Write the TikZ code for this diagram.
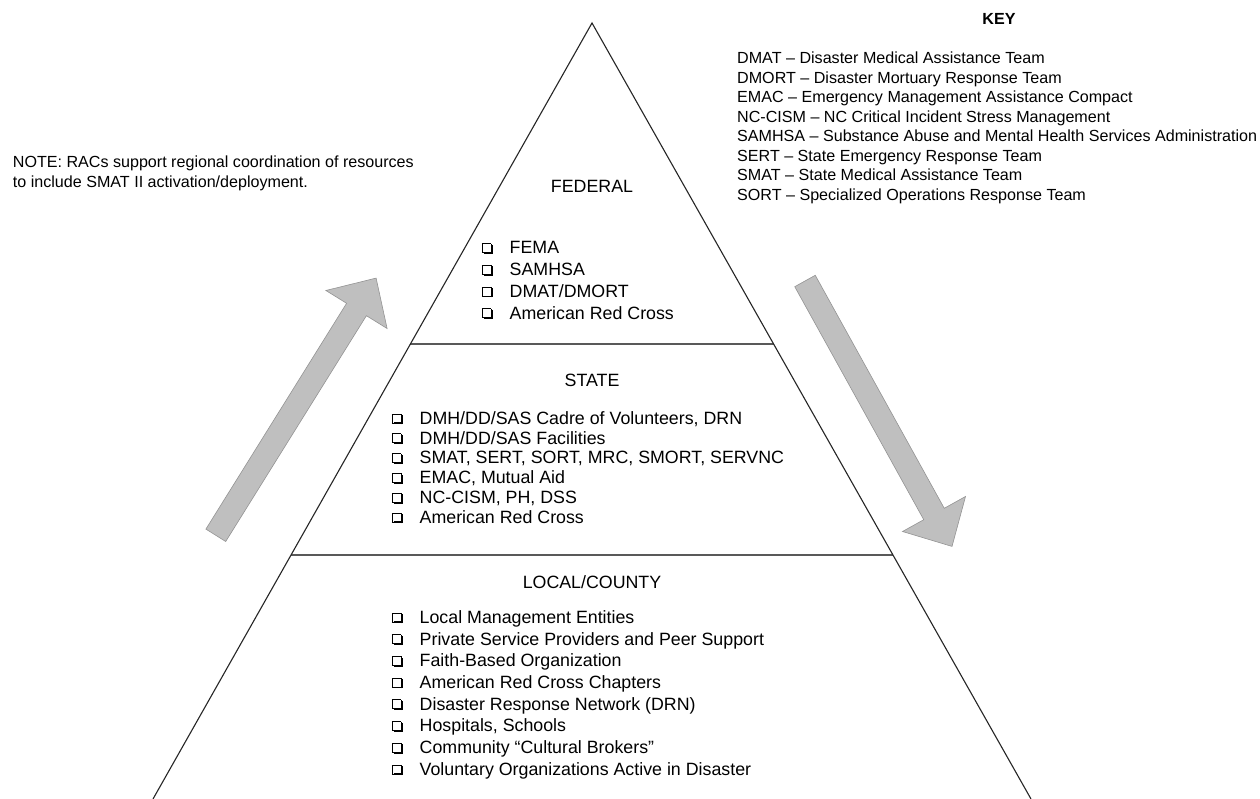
\documentclass[tikz,border=0pt]{standalone}
\usepackage{fontspec}
\setmainfont{Liberation Sans}
\newcommand{\cbx}{\makebox[27.5pt][l]{\setlength{\unitlength}{1pt}\setlength{\fboxrule}{0.9pt}%
  \begin{picture}(10.5,10)
    \put(0,1.7){\framebox(8.6,8.6){}}
    \put(8.6,0){\rule{1.9pt}{9.2pt}}
    \put(1.4,0){\rule{9.1pt}{1.9pt}}
  \end{picture}}}
\begin{document}
\begin{tikzpicture}[x=1pt,y=-1pt,
  edge/.style={draw=black!85, line width=1.1pt},
  divider/.style={draw=black!65, line width=1.5pt},
  bigarrow/.style={fill=gray!50, draw=gray!85, line width=0.6pt, line join=miter},
  hdr/.style={font=\fontsize{17.8}{21}\selectfont, inner sep=0pt, anchor=base},
  item/.style={font=\fontsize{17.8}{21}\selectfont, inner sep=0pt, anchor=base west},
  keyline/.style={font=\fontsize{16.1}{19.5}\selectfont, inner sep=0pt, anchor=base west}]
\useasboundingbox (0,0) rectangle (1260,799);
\fill[white] (0,0) rectangle (1260,799);

% pyramid
\coordinate (apex) at (592,23);
\coordinate (bl) at (153,799);
\coordinate (br) at (1031,799);
\coordinate (d1l) at (410.3,344);
\coordinate (d1r) at (773.7,344);
\coordinate (d2l) at (291,555);
\coordinate (d2r) at (893,555);
\draw[divider] (d1l) -- (d1r);
\draw[divider] (d2l) -- (d2r);
\draw[edge] (bl) -- (apex) -- (br);

% arrows
\draw[bigarrow] (205.9,529.1) -- (346.6,303.3) -- (325.9,290.5) -- (376.1,278.1)
  -- (387.1,328.5) -- (366.4,315.7) -- (225.7,541.5) -- cycle;
\draw[bigarrow] (815.25,275.3) -- (944.25,508.3) -- (965.5,496.5) -- (952,546.4)
  -- (902.5,531.5) -- (923.75,519.7) -- (794.75,286.7) -- cycle;

% headers
\node[hdr] (fedh) at (592,192.8) {FEDERAL};
\node[hdr] (stateh) at (592,386.3) {STATE};
\node[hdr] (localh) at (592,588.8) {LOCAL/COUNTY};

% federal list
\foreach \t [count=\i] in {FEMA, SAMHSA, DMAT/DMORT, American Red Cross}
  \node[item] (fed\i) at (482,{254+21.7*(\i-1)}) {\cbx\t};

% state list
\foreach \t [count=\i] in {{DMH/DD/SAS Cadre of Volunteers, DRN}, DMH/DD/SAS Facilities,
  {SMAT, SERT, SORT, MRC, SMORT, SERVNC}, {EMAC, Mutual Aid}, {NC-CISM, PH, DSS}, American Red Cross}
  \node[item] (st\i) at (392,{424.3+19.8*(\i-1)}) {\cbx\t};

% local list
\foreach \t [count=\i] in {Local Management Entities, Private Service Providers and Peer Support,
  Faith-Based Organization, American Red Cross Chapters, Disaster Response Network (DRN),
  {Hospitals, Schools}, Community “Cultural Brokers”, Voluntary Organizations Active in Disaster}
  \node[item] (loc\i) at (392,{623.3+21.7*(\i-1)}) {\cbx\t};

% note
\node[keyline] (note1) at (12.7,167.8) {NOTE: RACs support regional coordination of resources};
\node[keyline] (note2) at (12.7,187.3) {to include SMAT II activation/deployment.};

% key
\node[font=\fontsize{16.1}{19.5}\selectfont\bfseries, inner sep=0pt, anchor=base] (keyh) at (999,25) {KEY};
\foreach \t [count=\i] in {DMAT – Disaster Medical Assistance Team,
  DMORT – Disaster Mortuary Response Team,
  EMAC – Emergency Management Assistance Compact,
  NC-CISM – NC Critical Incident Stress Management,
  SAMHSA – Substance Abuse and Mental Health Services Administration,
  SERT – State Emergency Response Team,
  SMAT – State Medical Assistance Team,
  SORT – Specialized Operations Response Team}
  \node[keyline] (key\i) at (737,{63.7+19.5*(\i-1)}) {\t};
\end{tikzpicture}
\end{document}
